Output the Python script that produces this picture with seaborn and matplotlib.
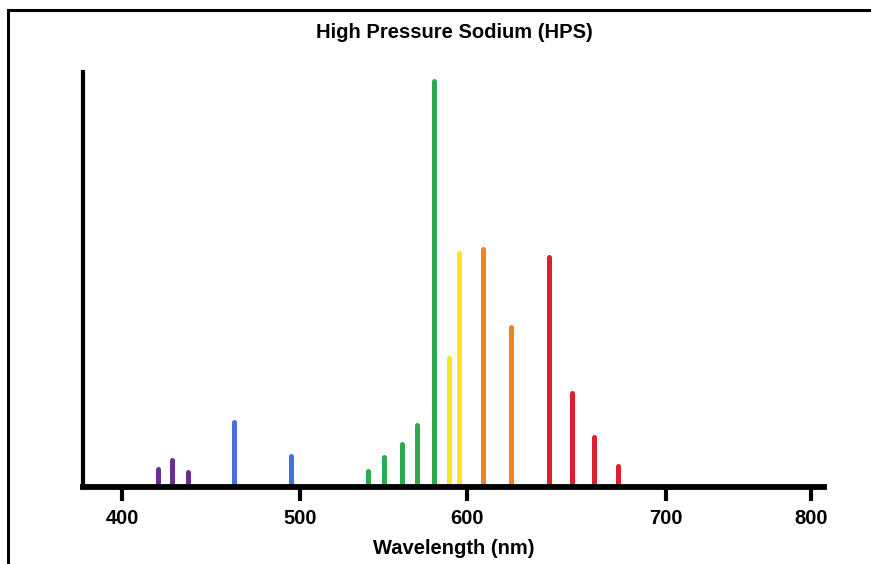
import numpy as np
import pandas as pd
import seaborn as sns
import matplotlib.pyplot as plt
from matplotlib.patches import Rectangle

# emission lines (wavelength nm, relative intensity 0-100)
wavelength = [420, 428, 437, 463, 495, 541, 550, 561, 570, 580,
              589, 595, 608, 622, 641, 653, 664, 676]
intensity = [4.3, 6.5, 3.7, 15.7, 7.5, 3.9, 7.3, 10.3, 14.9, 97.9,
             31.2, 56.5, 57.3, 38.6, 55.5, 22.6, 12.1, 5.1]
band = ["violet", "violet", "violet", "blue", "blue", "green", "green", "green", "green", "green",
        "yellow", "yellow", "orange", "orange", "red", "red", "red", "red"]
tick_values = [400, 500, 600, 700, 800]

palette = {"violet": "#6b2d93", "blue": "#4a6ee0", "green": "#2fa84f",
           "yellow": "#f7e61c", "orange": "#f5821f", "red": "#df1f2d"}

df = pd.DataFrame({"wavelength": wavelength, "intensity": intensity, "band": band})

# the hand-drawn axis has uneven tick spacing: map wavelength -> drawn position
_wl = [360, 400, 500, 600, 700, 800, 820]
_px = [50.8, 122, 300, 467, 666, 811, 840]


def fwd(x):
    return np.interp(x, _wl, _px)


def inv(p):
    return np.interp(p, _px, _wl)


sns.set_style("white")
plt.rcParams["font.family"] = ["Liberation Sans", "DejaVu Sans"]
plt.rcParams["text.color"] = "black"
plt.rcParams["axes.labelcolor"] = "black"
plt.rcParams["xtick.color"] = "black"

fig = plt.figure(figsize=(8.71, 5.64), dpi=100)
ax = fig.add_axes([83 / 871, 77 / 564, 741 / 871, 415 / 564])

ax.set_xscale("function", functions=(fwd, inv))
ax.vlines(df["wavelength"], 0, df["intensity"], colors=df["band"].map(palette),
          linewidth=3.6, capstyle="round")

ax.set_xlim(inv(83), inv(824))
ax.set_ylim(0, 100)
ax.set_xticks(tick_values)
ax.set_xticklabels([str(t) for t in tick_values], fontsize=14.5, fontweight="bold")
ax.set_yticks([])
ax.tick_params(axis="x", direction="out", length=10, width=3, color="black",
               labelcolor="black", pad=6, bottom=True)
sns.despine(ax=ax)
ax.spines["left"].set_linewidth(3)
ax.spines["bottom"].set_linewidth(4.2)
ax.spines["left"].set_color("black")
ax.spines["bottom"].set_color("black")
ax.set_xlabel("Wavelength (nm)", fontsize=14.5, fontweight="bold", labelpad=8, color="black")

fig.text(454 / 871, 1 - 32 / 564, "High Pressure Sodium (HPS)", ha="center", va="center",
         fontsize=14.5, fontweight="bold", color="black")

# frame around the image (only top and left edges fall inside)
fig.patches.append(Rectangle((8 / 871, -0.1), 1.2, 1.1 - 10 / 564, transform=fig.transFigure,
                             fill=False, edgecolor="black", linewidth=2.2))

fig.savefig("out.png", dpi=100)
